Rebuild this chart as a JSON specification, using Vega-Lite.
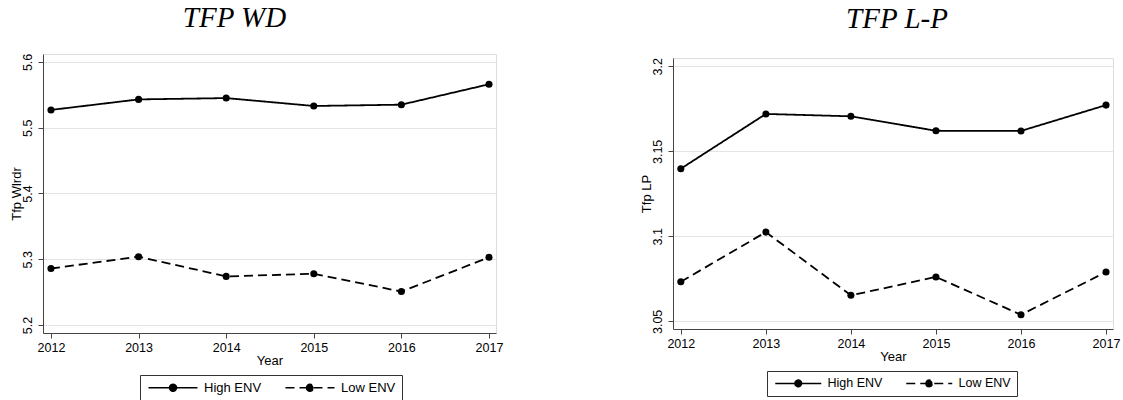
{
  "$schema": "https://vega.github.io/schema/vega-lite/v6.json",
  "background": "white",
  "padding": {"left": 9, "top": 3, "right": 0, "bottom": 0},
  "datasets": {
    "wd": [
      {"year": 2012, "group": "High ENV", "value": 5.527},
      {"year": 2013, "group": "High ENV", "value": 5.543},
      {"year": 2014, "group": "High ENV", "value": 5.545},
      {"year": 2015, "group": "High ENV", "value": 5.533},
      {"year": 2016, "group": "High ENV", "value": 5.535},
      {"year": 2017, "group": "High ENV", "value": 5.566},
      {"year": 2012, "group": "Low ENV", "value": 5.286},
      {"year": 2013, "group": "Low ENV", "value": 5.304},
      {"year": 2014, "group": "Low ENV", "value": 5.274},
      {"year": 2015, "group": "Low ENV", "value": 5.278},
      {"year": 2016, "group": "Low ENV", "value": 5.251},
      {"year": 2017, "group": "Low ENV", "value": 5.303}
    ],
    "lp": [
      {"year": 2012, "group": "High ENV", "value": 3.1398},
      {"year": 2013, "group": "High ENV", "value": 3.172},
      {"year": 2014, "group": "High ENV", "value": 3.1706},
      {"year": 2015, "group": "High ENV", "value": 3.1621},
      {"year": 2016, "group": "High ENV", "value": 3.162},
      {"year": 2017, "group": "High ENV", "value": 3.1772},
      {"year": 2012, "group": "Low ENV", "value": 3.0733},
      {"year": 2013, "group": "Low ENV", "value": 3.1025},
      {"year": 2014, "group": "Low ENV", "value": 3.0653},
      {"year": 2015, "group": "Low ENV", "value": 3.0761},
      {"year": 2016, "group": "Low ENV", "value": 3.0539},
      {"year": 2017, "group": "Low ENV", "value": 3.079}
    ]
  },
  "bounds": "flush",
  "center": true,
  "spacing": 177,
  "resolve": {"scale": {"strokeDash": "independent"}, "legend": {"strokeDash": "independent"}},
  "hconcat": [
    {
      "width": 453,
      "height": 279,
      "data": {"name": "wd"},
      "title": {"text": "TFP WD", "dx": -35, "offset": 20},
      "encoding": {
        "x": {"field": "year", "type": "quantitative", "scale": {"domain": [2011.909, 2017.08], "nice": false, "zero": false},
              "axis": {"values": [2012, 2013, 2014, 2015, 2016, 2017], "format": "d", "title": "Year"}},
        "y": {"field": "value", "type": "quantitative", "scale": {"domain": [5.188, 5.612], "nice": false, "zero": false},
              "axis": {"values": [5.2, 5.3, 5.4, 5.5, 5.6], "format": "~g", "title": "Tfp Wlrdr"}}
      },
      "layer": [
        {
          "mark": {"type": "line", "color": "black", "strokeWidth": 1.8},
          "encoding": {
            "strokeDash": {"field": "group", "type": "nominal",
              "scale": {"domain": ["High ENV", "Low ENV"], "range": [[1, 0], [9, 5]]},
              "legend": {"legendX": 97, "legendY": 321, "symbolSize": 64, "labelFontSize": 13, "labelOffset": 45,
                "symbolType": "M-1,0L11.25,0M4.25,0A0.875,0.875,0,1,0,6,0A0.875,0.875,0,1,0,4.25,0Z"}}
          }
        },
        {"mark": {"type": "point", "filled": true, "color": "black", "size": 50, "opacity": 1}}
      ]
    },
    {
      "width": 440,
      "height": 271,
      "data": {"name": "lp"},
      "title": {"text": "TFP L-P", "dx": 4, "offset": 24},
      "encoding": {
        "x": {"field": "year", "type": "quantitative", "scale": {"domain": [2011.908, 2017.082], "nice": false, "zero": false},
              "axis": {"values": [2012, 2013, 2014, 2015, 2016, 2017], "format": "d", "title": "Year"}},
        "y": {"field": "value", "type": "quantitative", "scale": {"domain": [3.0455, 3.2049], "nice": false, "zero": false},
              "axis": {"values": [3.05, 3.1, 3.15, 3.2], "format": "~g", "title": "Tfp LP"}}
      },
      "layer": [
        {
          "mark": {"type": "line", "color": "black", "strokeWidth": 1.8},
          "encoding": {
            "strokeDash": {"field": "group", "type": "nominal",
              "scale": {"domain": ["High ENV", "Low ENV"], "range": [[1, 0], [9, 5]]},
              "legend": {"legendX": 94, "legendY": 313, "symbolSize": 64, "labelFontSize": 12.5, "labelOffset": 42,
                "symbolType": "M-1,0L10.5,0M3.925,0A0.825,0.825,0,1,0,5.575,0A0.825,0.825,0,1,0,3.925,0Z"}}
          }
        },
        {"mark": {"type": "point", "filled": true, "color": "black", "size": 50, "opacity": 1}}
      ]
    }
  ],
  "config": {
    "view": {"fill": "white", "stroke": "#dddddd", "strokeWidth": 1},
    "title": {"font": "Liberation Serif", "fontStyle": "italic", "fontWeight": "normal", "fontSize": 29, "color": "black", "baseline": "alphabetic", "anchor": "middle"},
    "axis": {
      "domainColor": "#444", "tickColor": "#444", "tickSize": 5, "domainWidth": 1, "tickWidth": 1,
      "labelFont": "Liberation Sans", "labelFontSize": 12.5, "labelColor": "black",
      "titleFont": "Liberation Sans", "titleFontSize": 13, "titleFontWeight": "normal", "titleColor": "black"
    },
    "axisX": {"grid": false, "labelPadding": 3, "titlePadding": 1},
    "axisY": {"grid": true, "gridColor": "#e4e4e4", "labelAngle": 270, "labelAlign": "center", "labelBaseline": "bottom", "labelPadding": 4, "titlePadding": -2},
    "legend": {
      "orient": "none", "direction": "horizontal", "title": null,
      "strokeColor": "#333", "fillColor": "white", "padding": 6, "cornerRadius": 0,
      "symbolFillColor": "black", "symbolStrokeColor": "black", "symbolStrokeWidth": 1.5,
      "labelFont": "Liberation Sans", "labelColor": "black", "columnPadding": 20
    }
  }
}
